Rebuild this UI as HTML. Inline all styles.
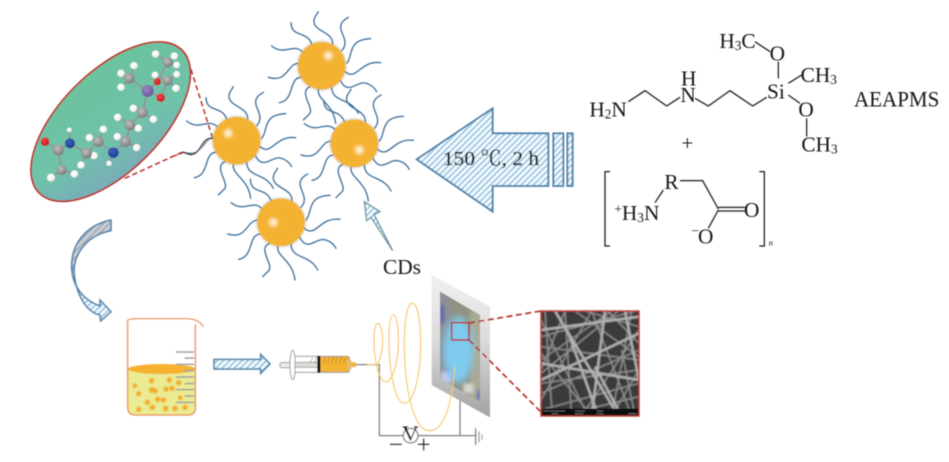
<!DOCTYPE html>
<html><head><meta charset="utf-8"><style>
html,body{margin:0;padding:0;background:#fff;width:949px;height:462px;overflow:hidden}
svg{display:block}
text{font-family:"Liberation Serif","Noto Serif CJK SC",serif;fill:#161616}
</style></head><body>
<svg width="949" height="462" viewBox="0 0 949 462" xmlns="http://www.w3.org/2000/svg">
<defs>
<pattern id="h" width="13" height="13" patternUnits="userSpaceOnUse" patternTransform="rotate(-45)"><rect width="13" height="13" fill="#fff"/><rect width="13" height="6.5" fill="#a3cde6"/></pattern>
<pattern id="hg" width="13" height="13" patternUnits="userSpaceOnUse" patternTransform="rotate(-45)"><rect width="13" height="13" fill="#d0d6da"/><rect width="13" height="6.5" fill="#a2afb8"/></pattern>
<linearGradient id="el" x1="0.75" y1="0.05" x2="0.25" y2="1"><stop offset="0" stop-color="#6cc39d"/><stop offset="0.6" stop-color="#6fc2aa"/><stop offset="1" stop-color="#7aa9bb"/></linearGradient>
<radialGradient id="gw" cx=".4" cy=".35" r=".7"><stop offset="0" stop-color="#fff"/><stop offset=".7" stop-color="#f4f4f4"/><stop offset="1" stop-color="#d0d0d0"/></radialGradient>
<radialGradient id="gc" cx=".4" cy=".35" r=".65"><stop offset="0" stop-color="#c0c0c0"/><stop offset="1" stop-color="#7c7c7c"/></radialGradient>
<radialGradient id="gb" cx=".4" cy=".35" r=".65"><stop offset="0" stop-color="#3a62c0"/><stop offset="1" stop-color="#1b3d90"/></radialGradient>
<radialGradient id="gr" cx=".4" cy=".35" r=".65"><stop offset="0" stop-color="#f04848"/><stop offset="1" stop-color="#c8141c"/></radialGradient>
<radialGradient id="gp" cx=".4" cy=".35" r=".65"><stop offset="0" stop-color="#9a86c8"/><stop offset="1" stop-color="#6a5a9a"/></radialGradient>
<radialGradient id="hl"><stop offset="0" stop-color="#fff" stop-opacity=".9"/><stop offset=".45" stop-color="#fde6bd" stop-opacity=".7"/><stop offset="1" stop-color="#f4b233" stop-opacity="0"/></radialGradient>
<linearGradient id="panel" x1="0" y1="0" x2="0" y2="1"><stop offset="0" stop-color="#f0f0f0"/><stop offset=".45" stop-color="#dcdcdc"/><stop offset="1" stop-color="#a2a2a2"/></linearGradient>
<filter id="soft" x="-5%" y="-5%" width="110%" height="110%"><feGaussianBlur stdDeviation="0.45"/></filter>
<filter id="b12" x="-50%" y="-50%" width="200%" height="200%"><feGaussianBlur stdDeviation="10"/></filter>
<filter id="b5" x="-20%" y="-20%" width="140%" height="140%"><feGaussianBlur stdDeviation="5"/></filter>
<filter id="b3" x="-50%" y="-50%" width="200%" height="200%"><feGaussianBlur stdDeviation="3"/></filter>
<filter id="b2" x="-5%" y="-5%" width="110%" height="110%"><feGaussianBlur stdDeviation="1.5"/></filter>
<clipPath id="ph"><polygon points="510,65 630,135 630,395 510,325"/></clipPath>
<clipPath id="sem"><rect x="348" y="123" width="294" height="315"/></clipPath>
<g id="hairs" fill="none" stroke="#40709c" stroke-width="4" stroke-linecap="round">
<path d="M488 132C490 95 430 95 432 62C432 50 440 45 445 35"/>
<path d="M515 152C540 125 510 100 512 80C513 65 525 58 535 52"/>
<path d="M530 190C550 170 530 118 602 116"/>
<path d="M525 215C560 245 570 180 632 188"/>
<path d="M510 240C535 290 560 240 590 250C605 255 615 265 620 275"/>
<path d="M485 260C485 310 540 290 565 340"/>
<path d="M445 268C440 300 490 310 497 370"/>
<path d="M420 260C385 275 430 320 420 340L400 360"/>
<path d="M392 232C355 235 375 300 328 308"/>
<path d="M387 190C350 190 355 250 295 232"/>
<path d="M400 158C370 125 345 170 305 138"/>
<path d="M425 132C410 90 365 115 363 68"/>
</g>
<g id="ball"><circle cx="455" cy="197" r="74" fill="#9a8f7a" opacity=".45" filter="url(#b3)"/><circle cx="455" cy="197" r="71" fill="#f4b233"/></g>
</defs>
<rect width="949" height="462" fill="#fff"/>
<g filter="url(#soft)">

<!-- ellipse + molecule -->
<g transform="translate(20,30) scale(.33333)">
<ellipse cx="272" cy="275" rx="303" ry="150" transform="rotate(-45 272 275)" fill="url(#el)" stroke="#b8332a" stroke-width="5"/>
<g fill="none" stroke="#b8332a" stroke-width="4.5" stroke-dasharray="16 9">
<path d="M513 118L578 325"/><path d="M488 366L310 447"/>
</g>
<g stroke="#8e9a9a" stroke-width="6" fill="none">
<path d="M75 335L115 360L150 340L200 370L235 335L280 368L317 335L330 285L367 248L383 183L328 145M115 360L125 420M125 420L93 443M125 420L163 432M150 340L148 300M235 335L250 298M235 335L208 323M200 370L183 405M200 370L222 377M280 368L267 400M317 335L292 320M317 335L350 353M330 285L293 262M330 285L355 295M367 248L340 235M367 248L400 268M328 145L342 107M328 145L303 130M328 145L303 172M383 183L422 203L443 152M383 183L412 155L443 97M443 97L407 72M443 97L463 78M443 97L470 105M443 152L405 135M443 152L470 133M443 152L468 175"/>
</g>
<g fill="url(#gw)">
<circle cx="407" cy="72" r="11"/><circle cx="463" cy="78" r="11"/><circle cx="470" cy="105" r="10"/><circle cx="405" cy="135" r="10"/><circle cx="470" cy="133" r="10"/><circle cx="468" cy="175" r="11"/><circle cx="342" cy="107" r="11"/><circle cx="303" cy="130" r="11"/><circle cx="303" cy="172" r="11"/><circle cx="340" cy="235" r="11"/><circle cx="400" cy="268" r="11"/><circle cx="293" cy="262" r="11"/><circle cx="355" cy="295" r="11"/><circle cx="292" cy="320" r="11"/><circle cx="350" cy="353" r="11"/><circle cx="250" cy="298" r="11"/><circle cx="208" cy="323" r="11"/><circle cx="183" cy="405" r="11"/><circle cx="222" cy="377" r="11"/><circle cx="267" cy="400" r="8"/><circle cx="148" cy="300" r="7"/><circle cx="93" cy="443" r="12"/><circle cx="163" cy="432" r="11"/>
</g>
<g fill="url(#gc)">
<circle cx="115" cy="360" r="17"/><circle cx="200" cy="370" r="16"/><circle cx="235" cy="335" r="16"/><circle cx="317" cy="335" r="16"/><circle cx="330" cy="285" r="16"/><circle cx="367" cy="248" r="16"/><circle cx="328" cy="145" r="16"/><circle cx="443" cy="97" r="15"/><circle cx="443" cy="152" r="15"/><circle cx="125" cy="420" r="15"/>
</g>
<circle cx="383" cy="183" r="18" fill="url(#gp)"/>
<circle cx="75" cy="335" r="13" fill="url(#gr)"/><circle cx="422" cy="203" r="13" fill="url(#gr)"/><circle cx="412" cy="155" r="11" fill="url(#gr)"/>
<circle cx="150" cy="340" r="15" fill="url(#gb)"/><circle cx="280" cy="368" r="16" fill="url(#gb)"/>
</g>

<!-- particles -->
<g transform="translate(170,0) scale(.33333)">
<use href="#hairs"/>
<use href="#hairs" transform="translate(-255,225)"/>
<use href="#hairs" transform="translate(98,233)"/>
<use href="#hairs" transform="translate(-122,470)"/>
<path d="M40 458L0 472" fill="none" stroke="#b8332a" stroke-width="4" stroke-dasharray="12 7"/>
<path d="M40 457C50 462 62 470 78 458C95 445 100 412 132 415" fill="none" stroke="#fff" stroke-width="6"/>
<path d="M132 415C100 410 95 445 78 458C62 470 52 460 40 457" fill="none" stroke="#111" stroke-width="4" stroke-linecap="round"/>
<use href="#ball"/>
<use href="#ball" transform="translate(-255,225)"/>
<use href="#ball" transform="translate(98,233)"/>
<use href="#ball" transform="translate(-122,470)"/>
<circle cx="475" cy="167" r="24" fill="url(#hl)"/>
<circle cx="175" cy="400" r="24" fill="url(#hl)"/>
<circle cx="568" cy="450" r="24" fill="url(#hl)"/>
<circle cx="310" cy="667" r="24" fill="url(#hl)"/>
<polygon points="583,605 630,635 612,643 668,752 603,652 590,662" fill="url(#h)" stroke="#6f97a5" stroke-width="4"/>
</g>
<text x="383" y="274" font-size="21" textLength="38" lengthAdjust="spacingAndGlyphs">CDs</text>

<!-- big arrow -->
<g transform="translate(400,90) scale(.33333)">
<polygon points="50,208 278,55 278,130 445,130 445,288 278,288 278,365" fill="url(#h)" stroke="#4f80a8" stroke-width="5.5"/>
<rect x="460" y="130" width="30" height="158" fill="url(#h)" stroke="#4f80a8" stroke-width="5.5"/>
<rect x="502" y="130" width="16" height="158" fill="url(#h)" stroke="#4f80a8" stroke-width="5.5"/>
</g>
<text x="443" y="165" font-size="20" textLength="96" lengthAdjust="spacingAndGlyphs" stroke="#161616" stroke-width=".25">150 ℃, 2 h</text>

<!-- chemistry -->
<g transform="translate(580,20) scale(.33333)">
<g fill="none" stroke="#1c1c1c" stroke-width="3.8">
<path d="M145 245L195 212L260 258L300 232M345 235L385 258L450 212L518 258L560 232"/>
<path d="M595 125V175M525 65L570 95M625 190L665 165M625 225L660 250M680 295V350"/>
<path d="M90 455H75V678H90M538 455H553V678H538"/>
<path d="M300 482H368L415 567M250 510L225 548M415 562H495M415 573H495M415 570L385 625"/>
</g>
<g font-size="64">
<text x="418" y="84">H<tspan font-size="40" dy="6">3</tspan><tspan dy="-6">C</tspan></text>
<text x="569" y="122">O</text>
<text x="662" y="186">CH<tspan font-size="40" dy="6">3</tspan></text>
<text x="561" y="236">Si</text>
<text x="655" y="289">O</text>
<text x="664" y="394">CH<tspan font-size="40" dy="6">3</tspan></text>
<text x="303" y="196">H</text>
<text x="301" y="246">N</text>
<text x="28" y="290" >H<tspan font-size="40" dy="6">2</tspan><tspan dy="-6">N</tspan></text>
<text x="304" y="390">+</text>
<text x="253" y="507">R</text>
<text x="103" y="600"><tspan font-size="40" dy="-20">+</tspan><tspan dy="20">H</tspan><tspan font-size="40" dy="6">3</tspan><tspan dy="-6">N</tspan></text>
<text x="492" y="591">O</text>
<text x="334" y="645" font-size="40">−</text>
<text x="354" y="671">O</text>
<text x="566" y="676" font-size="26" font-style="italic">n</text>
<text x="822" y="260" font-size="66" textLength="256" lengthAdjust="spacingAndGlyphs">AEAPMS</text>
</g>
</g>

<!-- curved arrow, beaker, small arrow -->
<g transform="translate(50,220) scale(.33333)">
<path d="M183 0C110 15 62 70 65 145L72 150C75 95 115 45 183 32Z" fill="url(#hg)" stroke="#4f80a8" stroke-width="4.5"/>
<path d="M65 145C68 200 100 240 150 258L150 240L183 275L152 303L150 285C105 275 75 215 72 150Z" fill="url(#h)" stroke="#4f80a8" stroke-width="4.5"/>
<path d="M233 448H436V565Q436 585 412 585H258Q235 585 235 565Z" fill="#eaeb92"/>
<ellipse cx="335" cy="447" rx="101" ry="15" fill="#f6b12f"/>
<g fill="#f4ad2e" filter="url(#b2)">
<circle cx="255" cy="497" r="7"/><circle cx="305" cy="482" r="8"/><circle cx="358" cy="480" r="8"/><circle cx="386" cy="488" r="8"/><circle cx="266" cy="521" r="8"/><circle cx="306" cy="510" r="9"/><circle cx="315" cy="512" r="8"/><circle cx="348" cy="507" r="8"/><circle cx="366" cy="505" r="8"/><circle cx="292" cy="547" r="8"/><circle cx="323" cy="538" r="8"/><circle cx="340" cy="540" r="8"/><circle cx="391" cy="533" r="7"/><circle cx="266" cy="568" r="8"/><circle cx="307" cy="562" r="8"/><circle cx="347" cy="565" r="8"/><circle cx="375" cy="565" r="8"/><circle cx="405" cy="562" r="8"/>
</g>
<g stroke="#a0a0a0" stroke-width="4.5">
<path d="M378 396H432M404 414H432M378 433H432M404 452H432M378 471H432M404 491H432M378 509H432M404 528H432M378 547H432"/>
</g>
<path d="M233 305V565Q235 585 258 585H412Q436 585 436 565V312" fill="none" stroke="#ec8d5c" stroke-width="4"/>
<path d="M230 303Q235 296 260 296H410Q445 296 460 320" fill="none" stroke="#ec8d5c" stroke-width="3.5"/>
<polygon points="492,418 632,418 632,403 660,432 632,460 632,447 492,447" fill="url(#h)" stroke="#4f80a8" stroke-width="4.5"/>
</g>

<!-- SEM -->
<g transform="translate(425,270) scale(.33333)">
<rect x="348" y="123" width="294" height="315" fill="#3a3a3a"/>
<g clip-path="url(#sem)">
<g filter="url(#b2)" fill="none">
<g stroke-width="5" stroke="#8c8c8c">
<path d="M348 230L642 270M348 390L500 123M450 123L642 260M348 150L480 420M348 370L642 240M620 123L560 438M348 250L500 438M470 438L642 180M360 123L380 410M548 123L642 220M348 310L580 123M400 438L642 380M348 200L642 120M590 240L630 438M348 340L642 300M348 270L560 123M420 123L348 300M500 123L620 438M348 420L642 340M440 438L420 123M560 438L642 300M480 123L642 170"/>
</g>
<g stroke-width="8" stroke="#b0b0b0">
<path d="M390 123L580 438M348 180L642 140M348 330L642 190M430 190L520 438M540 123L500 438M348 280L642 330M600 123L642 330M510 290L580 420"/>
</g>
</g>
</g>
<rect x="348" y="416" width="294" height="22" fill="#0a0a0a"/>
<path d="M355 423H420M450 423H480M515 423H535M610 431H635M380 431H400M450 431H475M515 431H535" stroke="#777" stroke-width="2.5"/>
<rect x="348" y="123" width="294" height="315" fill="none" stroke="#c0473a" stroke-width="4.5"/>
</g>

<!-- electrospinning -->
<g transform="translate(270,270) scale(.33333)">
<polygon points="485,15 660,110 660,442 485,345" fill="url(#panel)"/>
<polygon points="510,65 630,135 630,395 510,325" fill="#8f9282"/>
<g clip-path="url(#ph)">
<g filter="url(#b5)">
<rect x="505" y="60" width="35" height="280" fill="#8d8f96"/>
<rect x="600" y="120" width="35" height="280" fill="#a9aa96"/>
<rect x="512" y="105" width="10" height="55" fill="#5358b0"/>
<rect x="622" y="360" width="8" height="30" fill="#3c50c0"/>
<rect x="512" y="305" width="35" height="35" fill="#c8c8e4"/>
<rect x="580" y="340" width="30" height="30" fill="#d4d6cc"/>
</g>
<ellipse cx="565" cy="240" rx="46" ry="100" fill="#7fcbef" filter="url(#b12)"/>
</g>
<rect x="545" y="158" width="52" height="52" fill="none" stroke="#b8332a" stroke-width="4.5"/>
<g fill="none" stroke="#808080" stroke-width="3.8">
<path d="M240 284H328V497H400M445 497H615M570 392V497"/>
<path d="M617 475V525"/><path d="M627 484V517" stroke="#a0a0a0"/><path d="M636 492V510" stroke="#b4b4b4"/>
</g>
<path d="M290 284L322 284C334 260 338 235 338 215C338 185 332 160 323 160C316 160 312 185 312 215C312 280 330 335 347 335C370 335 385 270 385 215C385 170 380 135 370 135C360 135 357 170 357 210C357 300 375 400 403 400C435 400 452 300 452 220C452 150 442 100 427 100C410 100 403 160 403 220C403 350 430 482 478 482C525 482 545 400 555 290" fill="none" stroke="#f6c868" stroke-width="3.2"/>
<circle cx="422" cy="497" r="22" fill="#fff" stroke="#808080" stroke-width="3.8"/>
<text x="396" y="511" font-size="62" textLength="50" lengthAdjust="spacingAndGlyphs">V</text>
<path d="M360 523H395M444 523H478M461 506V541" stroke="#222" stroke-width="3.4" fill="none"/>
<!-- syringe -->
<rect x="30" y="278" width="40" height="15" rx="6" fill="#eee" stroke="#999" stroke-width="3"/>
<ellipse cx="68" cy="285" rx="8" ry="44" fill="#fff" stroke="#999" stroke-width="3"/>
<rect x="75" y="259" width="72" height="48" fill="#fff" stroke="#999" stroke-width="3"/>
<rect x="75" y="277" width="70" height="15" fill="#ddd" stroke="#999" stroke-width="2.5"/>
<rect x="150" y="259" width="88" height="48" rx="5" fill="#f4b233" stroke="#999" stroke-width="3"/>
<rect x="142" y="258" width="9" height="50" fill="#111"/>
<rect x="236" y="272" width="8" height="25" fill="#f4b233" stroke="#ccc" stroke-width="2"/>
<rect x="244" y="277" width="14" height="14" fill="#f4b233"/>
<path d="M120 280L128 262M133 280L140 262M160 280L168 262M172 280L180 262M184 280L192 262M196 280L204 262M208 280L216 262M220 280L228 262" stroke="#a9812a" stroke-width="2"/>
</g>
<g fill="none" stroke="#b8332a" stroke-width="1.7" stroke-dasharray="6 3.5">
<path d="M469 323L541 311"/><path d="M469 340L541 412"/>
</g>
</g>
</svg>
</body></html>
